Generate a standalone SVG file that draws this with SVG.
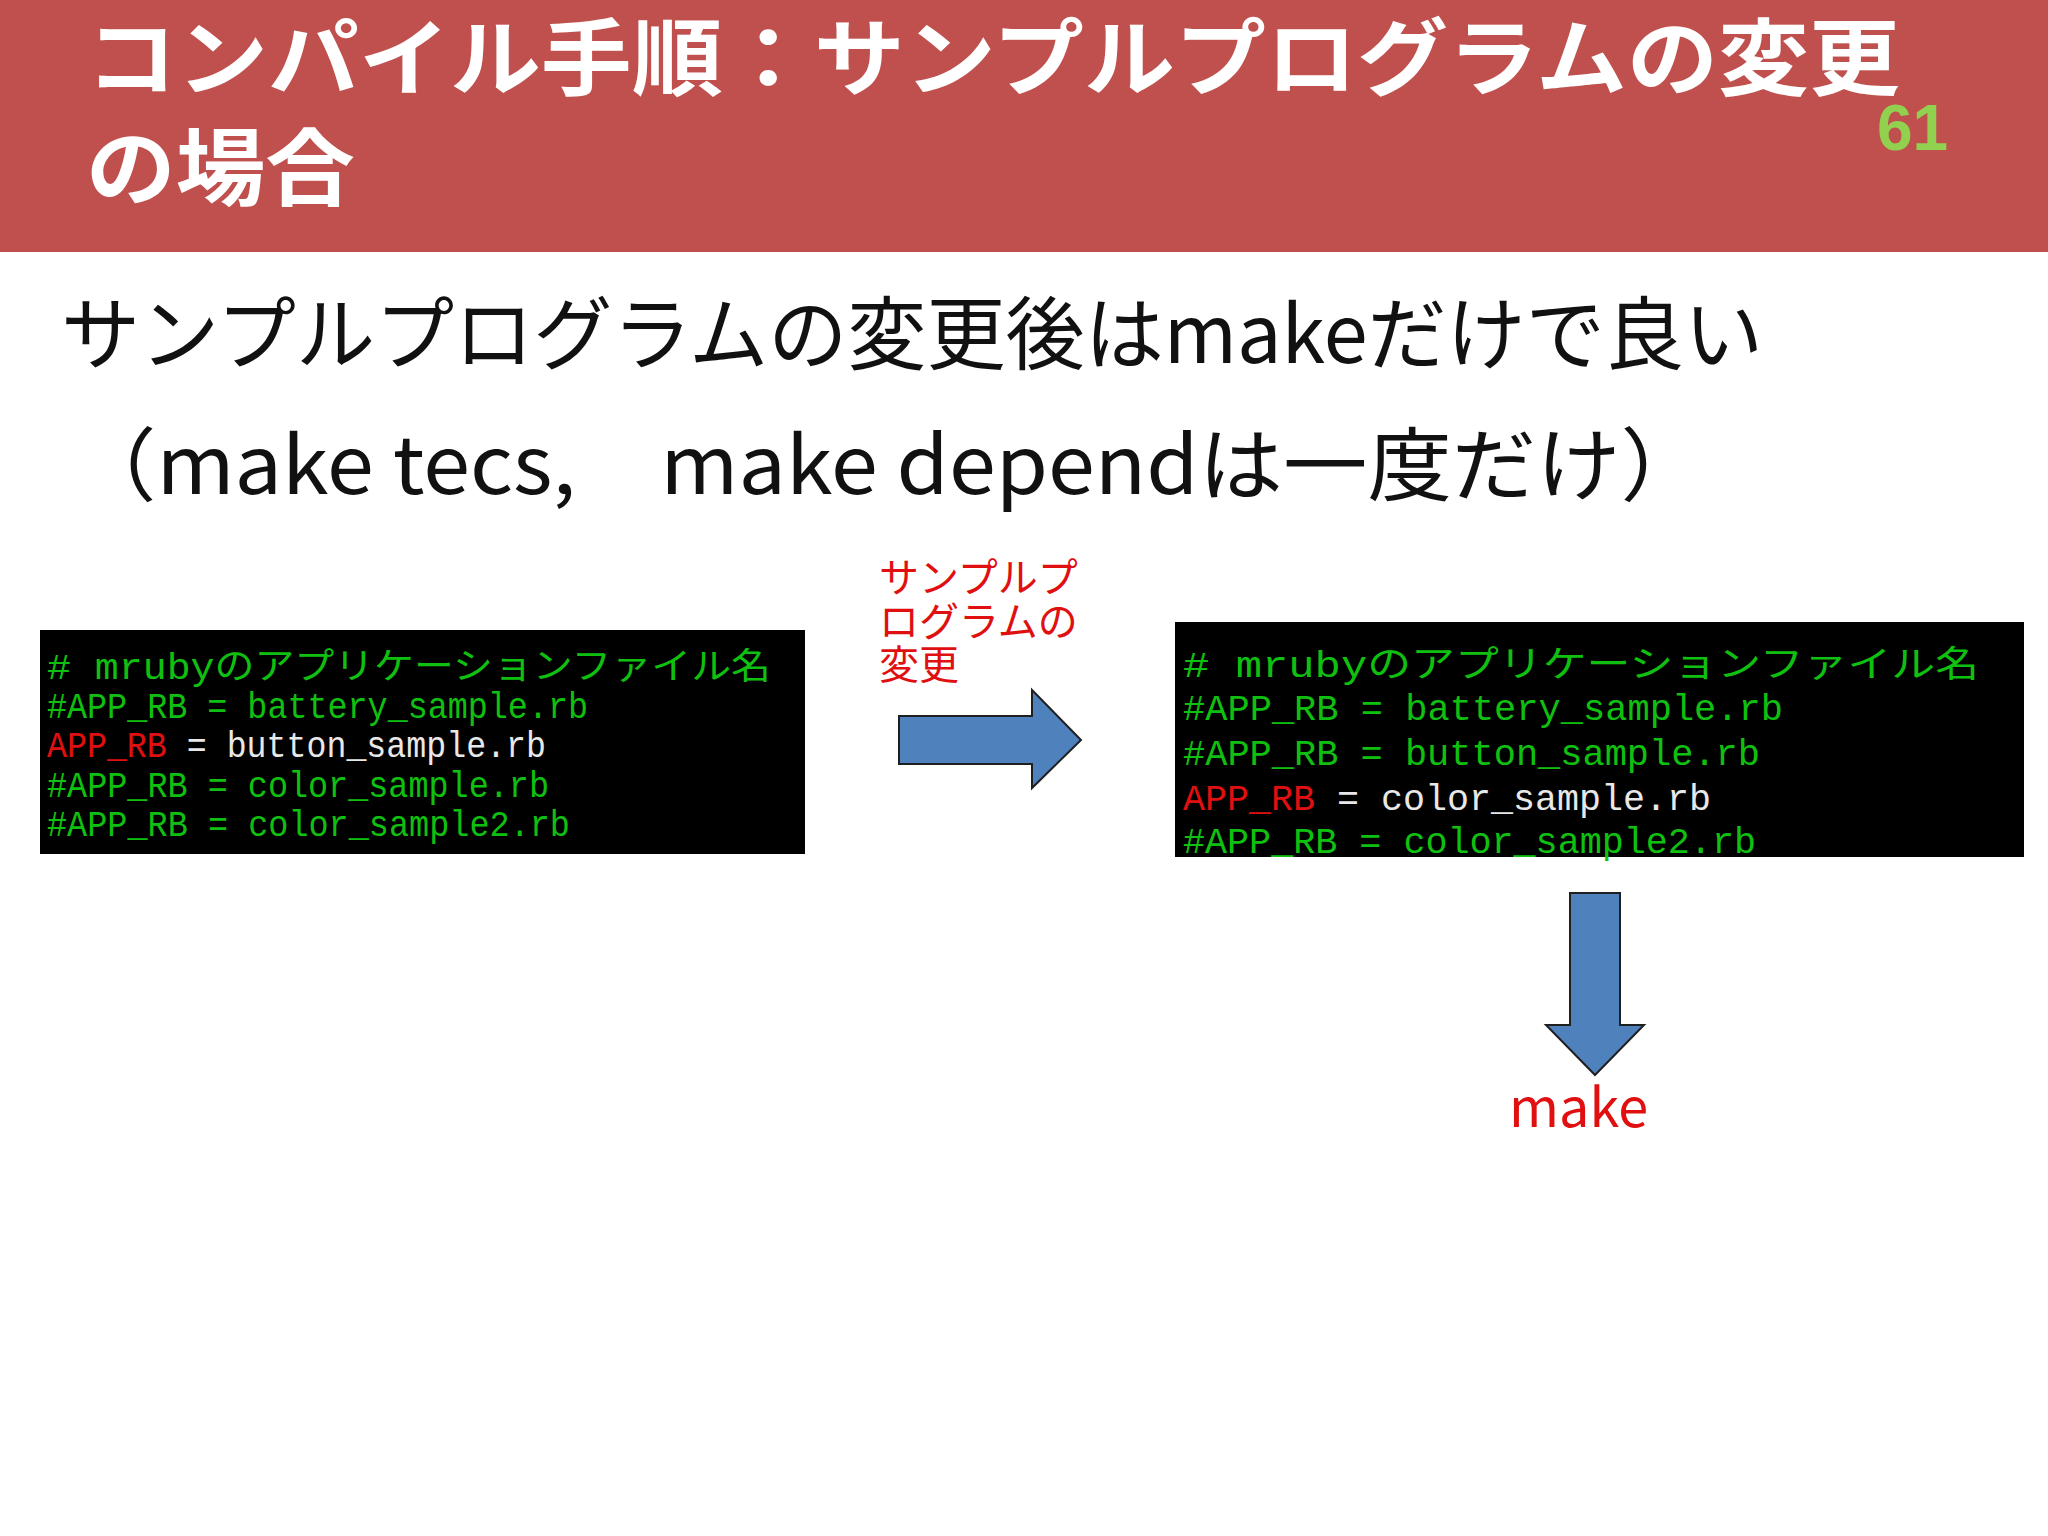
<svg xmlns="http://www.w3.org/2000/svg" width="2048" height="1536" viewBox="0 0 2048 1536">
<style>
.jp{font-family:"Noto Sans CJK JP","Noto Sans",sans-serif}
.t{font-family:"Liberation Mono","Noto Sans CJK JP",monospace;font-size:36px}
.g{fill:#10c010}.r{fill:#e01010}.w{fill:#e8e8e8}
.arrow{fill:#4f81bd;stroke:#1f1f1f;stroke-width:2}
</style>
<rect width="2048" height="1536" fill="#fff"/>
<g id="header">
<rect x="0" y="0" width="2048" height="252" fill="#c0504d"/>
<text class="jp" x="86" y="89" font-size="84" font-weight="bold" fill="#fff" textLength="1814" lengthAdjust="spacingAndGlyphs">コンパイル手順：サンプルプログラムの変更</text>
<text class="jp" x="86" y="199" font-size="84" font-weight="bold" fill="#fff" textLength="269" lengthAdjust="spacingAndGlyphs">の場合</text>
<text x="1877" y="150" font-family="Liberation Sans,sans-serif" font-size="64" font-weight="bold" fill="#92d050">61</text>
</g>
<g id="body">
<text class="jp" x="61" y="363" font-size="80" fill="#111" textLength="1702" lengthAdjust="spacingAndGlyphs">サンプルプログラムの変更後はmakeだけで良い</text>
<text class="jp" x="72" y="494" font-size="80" fill="#111" textLength="1633" lengthAdjust="spacingAndGlyphs">（make tecs,　make dependは一度だけ）</text>
</g>
<g id="label-change">
<text class="jp" font-size="40" fill="#e01010"><tspan x="879" y="592">サンプルプ</tspan><tspan x="879" y="636">ログラムの</tspan><tspan x="879" y="679">変更</tspan></text>
</g>
<g id="left-terminal">
<rect x="40" y="630" width="765" height="224" fill="#000"/>
<text class="t g" x="47" y="679" textLength="724" lengthAdjust="spacingAndGlyphs">#  mrubyのアプリケーションファイル名</text>
<text class="t g" x="47" y="718" textLength="541" lengthAdjust="spacingAndGlyphs">#APP_RB = battery_sample.rb</text>
<text class="t" x="47" y="757" textLength="499" lengthAdjust="spacingAndGlyphs"><tspan class="r">APP_RB</tspan><tspan class="w"> = button_sample.rb</tspan></text>
<text class="t g" x="47" y="797" textLength="502" lengthAdjust="spacingAndGlyphs">#APP_RB = color_sample.rb</text>
<text class="t g" x="47" y="836" textLength="523" lengthAdjust="spacingAndGlyphs">#APP_RB = color_sample2.rb</text>
</g>
<g id="right-terminal">
<rect x="1175" y="622" width="849" height="235" fill="#000"/>
<text class="t g" x="1183" y="677" font-size="40" textLength="796" lengthAdjust="spacingAndGlyphs">#  mrubyのアプリケーションファイル名</text>
<text class="t g" x="1183" y="720" font-size="40" textLength="600" lengthAdjust="spacingAndGlyphs">#APP_RB = battery_sample.rb</text>
<text class="t g" x="1183" y="765" font-size="40" textLength="577" lengthAdjust="spacingAndGlyphs">#APP_RB = button_sample.rb</text>
<text class="t" x="1183" y="810" font-size="40" textLength="528" lengthAdjust="spacingAndGlyphs"><tspan class="r">APP_RB</tspan><tspan class="w"> = color_sample.rb</tspan></text>
<text class="t g" x="1183" y="853" font-size="40" textLength="573" lengthAdjust="spacingAndGlyphs">#APP_RB = color_sample2.rb</text>
</g>
<g id="connectors">
<polygon class="arrow" points="899,716 1032,716 1032,690 1081,740 1032,788 1032,764 899,764"/>
<polygon class="arrow" points="1570,893 1620,893 1620,1025 1644,1025 1595,1075 1546,1025 1570,1025"/>
</g>
<g id="label-make">
<text class="jp" x="1509" y="1127" font-size="54" fill="#e01010">make</text>
</g>
</svg>
